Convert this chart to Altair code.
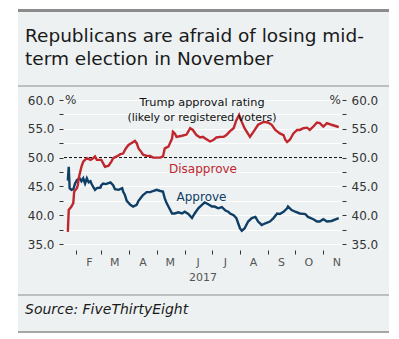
import altair as alt
import pandas as pd

# ---------------- data ----------------
disapprove_dates = [
    "2017-01-23", "2017-01-24", "2017-01-27", "2017-01-29", "2017-01-30",
    "2017-02-02", "2017-02-03", "2017-02-04", "2017-02-07", "2017-02-09", "2017-02-11",
    "2017-02-13", "2017-02-17", "2017-02-20", "2017-02-22", "2017-02-24",
    "2017-03-01", "2017-03-05", "2017-03-09", "2017-03-12", "2017-03-14", "2017-03-18",
    "2017-03-22", "2017-03-25", "2017-03-28", "2017-03-31",
    "2017-04-03", "2017-04-07", "2017-04-09", "2017-04-11", "2017-04-14", "2017-04-16",
    "2017-04-20", "2017-04-24", "2017-04-27",
    "2017-05-01", "2017-05-05", "2017-05-08", "2017-05-10", "2017-05-14", "2017-05-18",
    "2017-05-19", "2017-05-21", "2017-05-23", "2017-05-29",
    "2017-06-03", "2017-06-07", "2017-06-10", "2017-06-14", "2017-06-18", "2017-06-21",
    "2017-06-25", "2017-06-29",
    "2017-07-03", "2017-07-06", "2017-07-10", "2017-07-14", "2017-07-17", "2017-07-21",
    "2017-07-25", "2017-07-28", "2017-07-31",
    "2017-08-03", "2017-08-06", "2017-08-12", "2017-08-16", "2017-08-21", "2017-08-27",
    "2017-09-01", "2017-09-05", "2017-09-09", "2017-09-14", "2017-09-18", "2017-09-20",
    "2017-09-22", "2017-09-25", "2017-09-29",
    "2017-10-03", "2017-10-06", "2017-10-10", "2017-10-14", "2017-10-17", "2017-10-21",
    "2017-10-25", "2017-10-28",
    "2017-11-01", "2017-11-05", "2017-11-10", "2017-11-16", "2017-11-18",
]
disapprove_values = [
    37.1, 40.9, 41.5, 42.1, 44.1,
    44.7, 45.2, 46.4, 48.4, 49.3, 49.6, 49.9, 49.6, 49.9, 50.2, 49.6,
    49.6, 48.4, 48.6, 49.3, 49.9, 50.2, 50.6, 50.7, 51.6, 52.2,
    52.5, 52.9, 52.5, 51.6, 51.0, 50.5, 50.3, 50.3, 50.0,
    50.0, 50.0, 50.2, 51.6, 51.9, 53.3, 54.5, 54.2, 53.6, 53.8,
    54.0, 55.1, 54.8, 53.9, 53.5, 53.6, 53.2, 52.8,
    53.1, 53.5, 53.6, 53.6, 53.9, 54.6, 55.1, 56.5, 57.4,
    56.2, 55.1, 53.6, 54.5, 55.7, 56.2,
    56.1, 55.7, 54.8, 54.2, 53.9, 53.1, 52.7, 53.1, 54.2,
    54.8, 54.8, 55.1, 55.2, 54.8, 55.4, 56.1, 56.0,
    55.4, 56.0, 55.7, 55.4, 55.3,
]

approve_dates = [
    "2017-01-23", "2017-01-24", "2017-01-25", "2017-01-27", "2017-01-29", "2017-01-31",
    "2017-02-02", "2017-02-05", "2017-02-07", "2017-02-09", "2017-02-11", "2017-02-13",
    "2017-02-15", "2017-02-17", "2017-02-18", "2017-02-20", "2017-02-22", "2017-02-24",
    "2017-02-28",
    "2017-03-01", "2017-03-03", "2017-03-06", "2017-03-11", "2017-03-14", "2017-03-16",
    "2017-03-20", "2017-03-24", "2017-03-25", "2017-03-27", "2017-03-29",
    "2017-04-02", "2017-04-05", "2017-04-09", "2017-04-11", "2017-04-13", "2017-04-16",
    "2017-04-20", "2017-04-24", "2017-04-27",
    "2017-05-01", "2017-05-05", "2017-05-08", "2017-05-10", "2017-05-12", "2017-05-14",
    "2017-05-18", "2017-05-21", "2017-05-25", "2017-05-29",
    "2017-06-01", "2017-06-05", "2017-06-09", "2017-06-12", "2017-06-16", "2017-06-20",
    "2017-06-23", "2017-06-27",
    "2017-07-01", "2017-07-04", "2017-07-08", "2017-07-12", "2017-07-16", "2017-07-19",
    "2017-07-21", "2017-07-25", "2017-07-28", "2017-07-30",
    "2017-08-01", "2017-08-03", "2017-08-06", "2017-08-10", "2017-08-14", "2017-08-18",
    "2017-08-21", "2017-08-25", "2017-08-29",
    "2017-09-03", "2017-09-07", "2017-09-11", "2017-09-14", "2017-09-18", "2017-09-22",
    "2017-09-23", "2017-09-27",
    "2017-10-01", "2017-10-06", "2017-10-12", "2017-10-15", "2017-10-21", "2017-10-25",
    "2017-10-28",
    "2017-11-01", "2017-11-05", "2017-11-10", "2017-11-18",
]
approve_values = [
    46.0, 48.4, 44.7, 44.4, 44.5, 45.5,
    46.1, 46.4, 45.9, 46.4, 45.5, 46.4, 45.7, 45.9, 45.5, 44.9, 44.4, 44.7, 44.8,
    45.2, 45.5, 45.4, 45.7, 45.2, 44.5, 44.4, 44.7, 44.1, 43.5, 42.5,
    41.8, 41.5, 41.8, 42.5, 42.9, 43.5, 44.0, 44.0, 44.2,
    44.4, 44.2, 44.1, 42.9, 42.1, 41.5, 40.3, 40.3, 40.5, 40.3,
    40.6, 40.2, 39.5, 40.3, 41.2, 41.8, 42.2, 41.9,
    41.5, 41.5, 41.2, 41.4, 40.8, 40.6, 40.3, 40.0, 39.5, 38.6,
    37.7, 37.3, 37.7, 38.9, 39.5, 39.7, 38.9, 38.3, 38.6,
    38.9, 39.5, 40.3, 40.2, 40.6, 41.2, 41.5, 40.9,
    40.6, 40.3, 40.2, 39.7, 39.3, 38.9, 38.9,
    39.3, 38.9, 39.0, 39.5,
]

y_ticks = [35, 37.5, 40, 42.5, 45, 47.5, 50, 52.5, 55, 57.5, 60]
month_initials = ["J", "F", "M", "A", "M", "J", "J", "A", "S", "O", "N", "D"]
tick_months = [2, 3, 4, 5, 6, 7, 8, 9, 10, 11]

title_line1 = "Republicans are afraid of losing mid-"
title_line2 = "term election in November"
note_line1 = "Trump approval rating"
note_line2 = "(likely or registered voters)"
source_text = "Source: FiveThirtyEight"

# ---------------- style ----------------
BG = "#edf1f2"
RED = "#c0262d"
BLUE = "#0f3e66"
GRAY_LINE = "#8c8c8c"
FONT = "DejaVu Sans"

W, H = 279, 144

df_d = pd.DataFrame({"date": disapprove_dates, "value": disapprove_values})
df_a = pd.DataFrame({"date": approve_dates, "value": approve_values})
one = pd.DataFrame({"k": [0]})

x_scale = alt.Scale(
    type="utc",
    domain=[
        alt.DateTime(year=2017, month=1, date=17, hours=16, utc=True),
        alt.DateTime(year=2017, month=11, date=21, hours=14, utc=True),
    ],
)
y_scale = alt.Scale(domain=[35, 60], nice=False, zero=False)

month_expr = "[" + ",".join("'%s'" % m for m in month_initials) + "][utcmonth(datum.value)]"
x_axis = alt.Axis(
    values=[alt.DateTime(year=2017, month=m, date=1, utc=True) for m in tick_months],
    labelExpr=month_expr,
    labelOffset=13,
    tickSize=4,
    tickColor="#333333",
    offset=6,
    domain=False,
    grid=False,
    labelPadding=2,
    labelFontSize=11,
    labelColor="#555555",
    labelFont=FONT,
    labelFlush=False,
    labelOverlap=False,
    title="2017",
    titleFontSize=11,
    titleFontWeight="normal",
    titleColor="#555555",
    titleFont=FONT,
    titlePadding=4,
)

lab_expr = "datum.value % 5 === 0 ? format(datum.value, '.1f') : ''"
common_y = dict(
    values=y_ticks,
    labelExpr=lab_expr,
    tickSize=4,
    tickColor="#333333",
    domain=False,
    labelPadding=5,
    labelFontSize=12,
    labelColor="#333333",
    labelFont=FONT,
    labelFlush=False,
    labelOverlap=False,
    title=None,
)
y_left = alt.Axis(orient="left", grid=True, gridColor="white", gridWidth=1, **common_y)
y_right = alt.Axis(orient="right", grid=False, **common_y)

# ---------------- decorations ----------------
def rect(x, x2, y, y2, color):
    return alt.Chart(one).mark_rect(color=color).encode(
        x=alt.value(x), x2=alt.value(x2), y=alt.value(y), y2=alt.value(y2)
    )

def hline(y, width):
    return alt.Chart(one).mark_rule(color=GRAY_LINE, strokeWidth=width).encode(
        x=alt.value(-45), x2=alt.value(326), y=alt.value(y)
    )

def label(text, x, y, size, color, align="left", baseline="alphabetic", style="normal"):
    return alt.Chart(one).mark_text(
        align=align, baseline=baseline, fontSize=size, color=color, font=FONT, fontStyle=style
    ).encode(x=alt.value(x), y=alt.value(y), text=alt.value(text))

margins = [
    rect(-63, -45, -100, 239, "white"),
    rect(326, 336, -100, 239, "white"),
    rect(-63, 336, -100, -91, "white"),
    rect(-63, 336, 233, 239, "white"),
]
lines = [hline(-89.5, 3), hline(-14, 1), hline(195, 1), hline(232, 1.5)]

fifty = alt.Chart(pd.DataFrame({"y": [50]})).mark_rule(
    color="black", strokeDash=[3, 2], strokeWidth=1
).encode(y=alt.Y("y:Q", scale=y_scale, axis=None))

red_line = alt.Chart(df_d).mark_line(color=RED, strokeWidth=2.4).encode(
    x=alt.X("date:T", scale=x_scale, axis=x_axis),
    y=alt.Y("value:Q", scale=y_scale, axis=y_left),
)
blue_line = alt.Chart(df_a).mark_line(color=BLUE, strokeWidth=2.4).encode(
    x=alt.X("date:T", scale=x_scale, axis=x_axis),
    y=alt.Y("value:Q", scale=y_scale, axis=y_right),
)

texts = [
    label(title_line1, -38, -58.5, 18.5, "#1a1a1a"),
    label(title_line2, -38, -35.5, 18.5, "#1a1a1a"),
    label(note_line1, 139, 5.5, 11.3, "#111111", align="center"),
    label(note_line2, 139, 20.5, 11, "#111111", align="center"),
    label("Disapprove", 140, 73, 12, RED, align="center"),
    label("Approve", 138.5, 100.5, 12, BLUE, align="center"),
    label("%", 2, 0, 12, "#333333", baseline="middle"),
    label("%", 278, 0, 12, "#333333", align="right", baseline="middle"),
    label(source_text, -38, 214, 14, "#1a1a1a", style="italic"),
]

chart = (
    alt.layer(*margins, *lines, fifty, blue_line, red_line, *texts)
    .resolve_axis(y="independent")
    .properties(
        width=W,
        height=H,
        autosize=alt.AutoSizeParams(type="none"),
        padding={"left": 63, "top": 100, "right": 57, "bottom": 95},
        background=BG,
    )
    .configure_view(stroke=None)
)

chart.save("out.html", embed_options={"renderer": "svg", "actions": False})
